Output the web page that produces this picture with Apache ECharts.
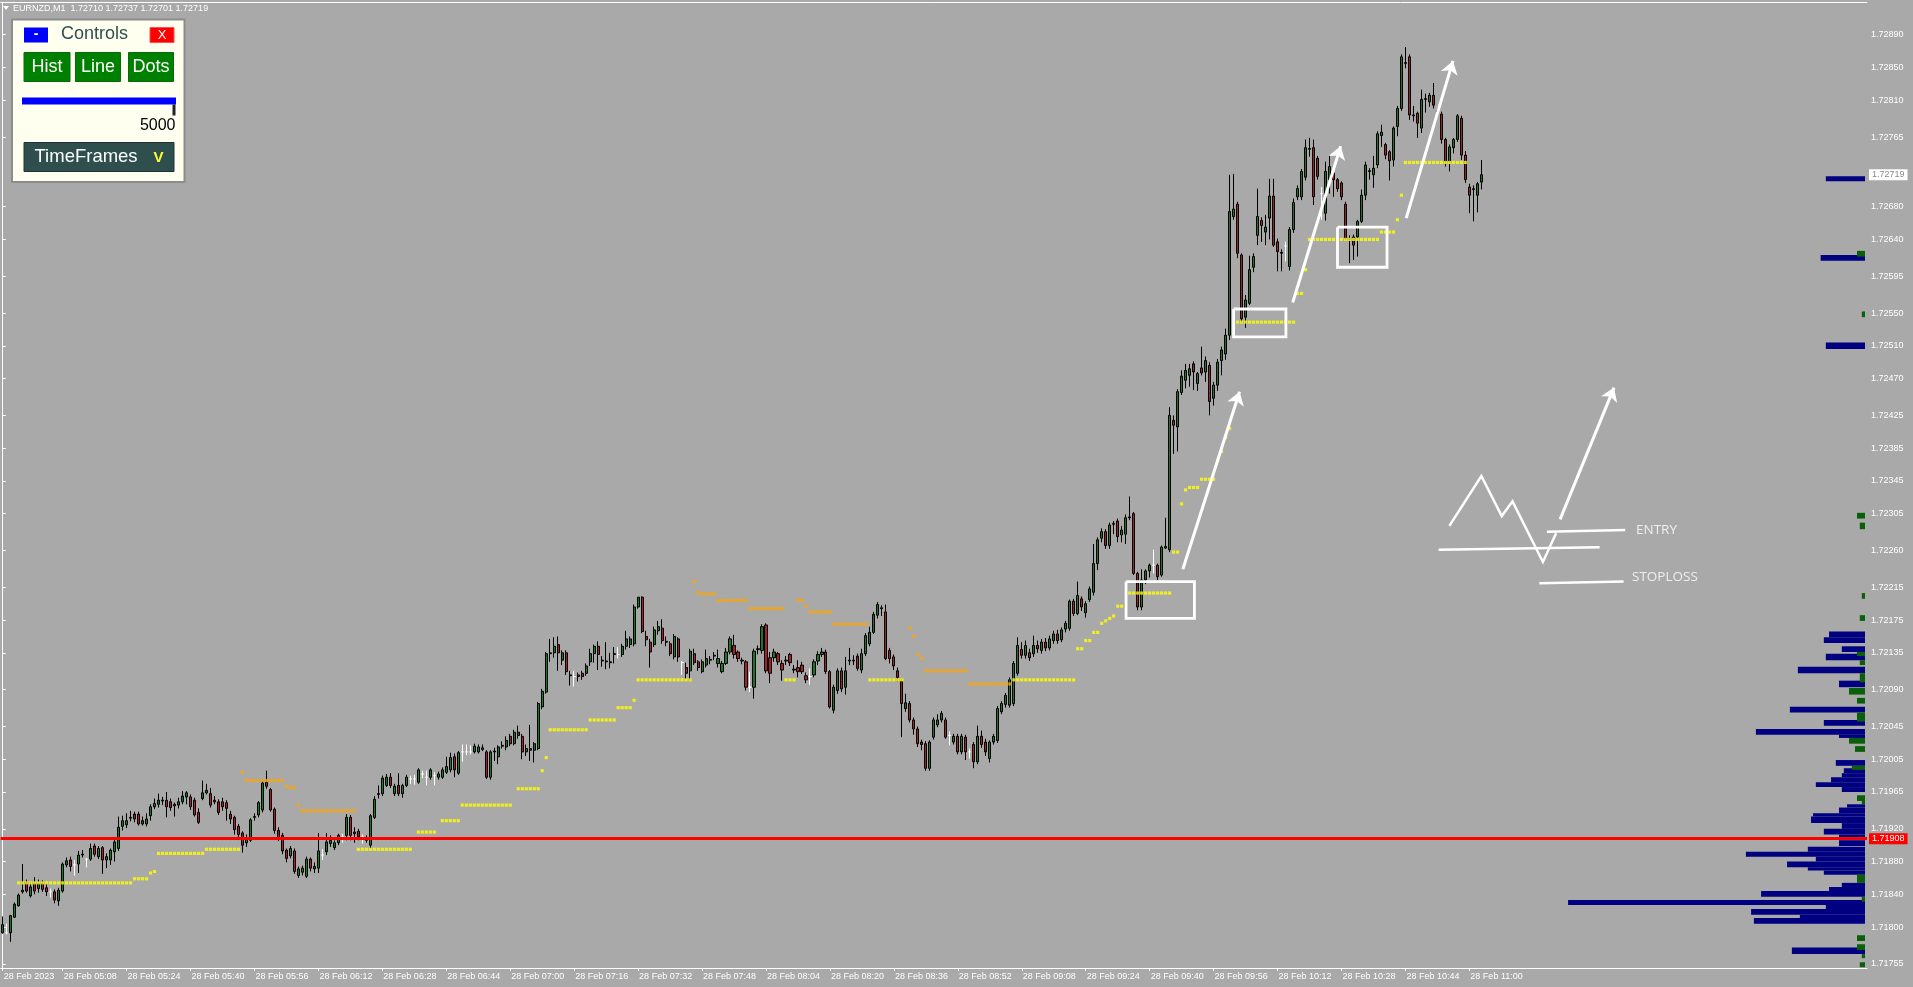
<!DOCTYPE html>
<html><head><meta charset="utf-8">
<script src="https://cdn.jsdelivr.net/npm/echarts@6/dist/echarts.min.js"></script>
<style>html,body{margin:0;padding:0;background:#a9a9a9;overflow:hidden}#chart{width:1913px;height:987px}</style>
</head><body><div id="chart"></div>
<script>
const symbolName = 'EURNZD,M1';
const firstBarMinute = 4 * 60 + 53;
// [open, high, low, close] per M1 bar
const ohlc = [
[1.71793,1.71813,1.71792,1.71803],[1.71793,1.71804,1.71791,1.71793],[1.71793,1.71815,1.71782,1.71814],[1.71812,1.71830,1.71811,1.71828],[1.71826,1.71841,1.71825,1.71839],
[1.71845,1.71877,1.71841,1.71843],[1.71854,1.71858,1.71842,1.71844],[1.71838,1.71855,1.71836,1.71849],[1.71853,1.71861,1.71840,1.71844],[1.71847,1.71858,1.71842,1.71853],
[1.71853,1.71857,1.71843,1.71846],[1.71848,1.71853,1.71838,1.71843],[1.71843,1.71847,1.71836,1.71843],[1.71843,1.71846,1.71829,1.71833],[1.71832,1.71848,1.71826,1.71845],
[1.71844,1.71879,1.71842,1.71877],[1.71876,1.71885,1.71873,1.71881],[1.71882,1.71886,1.71868,1.71874],[1.71876,1.71882,1.71863,1.71876],[1.71877,1.71893,1.71866,1.71888],
[1.71888,1.71894,1.71885,1.71889],[1.71883,1.71884,1.71873,1.71883],[1.71883,1.71902,1.71881,1.71896],[1.71899,1.71902,1.71886,1.71889],[1.71886,1.71899,1.71883,1.71896],
[1.71897,1.71899,1.71865,1.71882],[1.71882,1.71890,1.71872,1.71886],[1.71882,1.71896,1.71876,1.71894],[1.71892,1.71907,1.71880,1.71904],[1.71896,1.71935,1.71893,1.71922],
[1.71923,1.71936,1.71918,1.71930],[1.71925,1.71939,1.71921,1.71930],[1.71934,1.71942,1.71929,1.71933],[1.71938,1.71941,1.71928,1.71932],[1.71938,1.71941,1.71924,1.71926],
[1.71926,1.71935,1.71924,1.71930],[1.71926,1.71939,1.71923,1.71932],[1.71936,1.71950,1.71930,1.71947],[1.71947,1.71957,1.71944,1.71951],[1.71950,1.71963,1.71946,1.71955],
[1.71955,1.71959,1.71949,1.71954],[1.71955,1.71965,1.71934,1.71947],[1.71953,1.71957,1.71942,1.71946],[1.71948,1.71952,1.71935,1.71950],[1.71949,1.71958,1.71945,1.71953],
[1.71953,1.71966,1.71950,1.71960],[1.71959,1.71966,1.71950,1.71964],[1.71959,1.71962,1.71943,1.71947],[1.71955,1.71958,1.71935,1.71937],[1.71940,1.71945,1.71926,1.71928],
[1.71957,1.71979,1.71955,1.71964],[1.71964,1.71975,1.71962,1.71967],[1.71963,1.71970,1.71946,1.71949],[1.71955,1.71960,1.71950,1.71953],[1.71953,1.71956,1.71937,1.71940],
[1.71953,1.71958,1.71942,1.71947],[1.71952,1.71955,1.71930,1.71945],[1.71938,1.71942,1.71926,1.71932],[1.71934,1.71936,1.71913,1.71919],[1.71923,1.71926,1.71910,1.71913],
[1.71915,1.71917,1.71891,1.71900],[1.71903,1.71913,1.71898,1.71907],[1.71906,1.71933,1.71904,1.71931],[1.71934,1.71939,1.71930,1.71935],[1.71937,1.71954,1.71934,1.71952],
[1.71943,1.71978,1.71940,1.71976],[1.71977,1.71991,1.71969,1.71972],[1.71968,1.71970,1.71941,1.71943],[1.71944,1.71946,1.71914,1.71918],[1.71918,1.71922,1.71905,1.71909],
[1.71912,1.71915,1.71889,1.71893],[1.71894,1.71896,1.71879,1.71884],[1.71887,1.71899,1.71884,1.71896],[1.71893,1.71896,1.71865,1.71868],[1.71863,1.71874,1.71860,1.71871],
[1.71867,1.71875,1.71863,1.71872],[1.71862,1.71886,1.71860,1.71883],[1.71883,1.71885,1.71868,1.71872],[1.71871,1.71879,1.71866,1.71874],[1.71872,1.71915,1.71866,1.71893],
[1.71888,1.71895,1.71882,1.71888],[1.71892,1.71915,1.71888,1.71904],[1.71902,1.71912,1.71898,1.71906],[1.71897,1.71906,1.71894,1.71903],[1.71903,1.71914,1.71900,1.71912],
[1.71910,1.71914,1.71903,1.71910],[1.71912,1.71938,1.71906,1.71934],[1.71934,1.71937,1.71906,1.71912],[1.71916,1.71922,1.71903,1.71914],[1.71917,1.71920,1.71906,1.71910],
[1.71910,1.71913,1.71902,1.71910],[1.71906,1.71912,1.71903,1.71907],[1.71900,1.71938,1.71896,1.71936],[1.71934,1.71960,1.71932,1.71956],[1.71963,1.71973,1.71957,1.71962],
[1.71963,1.71985,1.71960,1.71982],[1.71973,1.71987,1.71971,1.71983],[1.71983,1.71988,1.71970,1.71973],[1.71963,1.71975,1.71960,1.71972],[1.71973,1.71988,1.71960,1.71963],
[1.71963,1.71975,1.71958,1.71973],[1.71973,1.71986,1.71971,1.71983],[1.71981,1.71985,1.71975,1.71981],[1.71981,1.71986,1.71974,1.71981],[1.71977,1.71994,1.71975,1.71992],
[1.71987,1.71991,1.71982,1.71987],[1.71983,1.71991,1.71973,1.71983],[1.71983,1.71994,1.71980,1.71992],[1.71985,1.71989,1.71973,1.71985],[1.71983,1.71990,1.71980,1.71987],
[1.71983,1.71995,1.71981,1.71992],[1.71989,1.72008,1.71987,1.71996],[1.71992,1.72013,1.71989,1.72007],[1.72008,1.72012,1.71983,1.71992],[1.71988,1.72015,1.71986,1.72013],
[1.72014,1.72023,1.72002,1.72014],[1.72014,1.72023,1.72010,1.72014],[1.72014,1.72022,1.72011,1.72014],[1.72014,1.72024,1.72012,1.72021],[1.72014,1.72023,1.72012,1.72020],
[1.72019,1.72023,1.72015,1.72017],[1.72014,1.72016,1.71981,1.71983],[1.71983,1.72016,1.71980,1.72014],[1.72014,1.72019,1.72003,1.72015],[1.72008,1.72022,1.71999,1.72020],
[1.72022,1.72027,1.72018,1.72021],[1.72020,1.72033,1.72016,1.72028],[1.72033,1.72036,1.72021,1.72024],[1.72024,1.72041,1.72022,1.72038],[1.72038,1.72046,1.72030,1.72034],
[1.72033,1.72036,1.72005,1.72014],[1.72014,1.72023,1.72009,1.72018],[1.72018,1.72047,1.72003,1.72016],[1.72016,1.72026,1.72001,1.72024],[1.72018,1.72075,1.72016,1.72073],
[1.72069,1.72091,1.72066,1.72088],[1.72087,1.72136,1.72085,1.72134],[1.72134,1.72152,1.72124,1.72135],[1.72135,1.72154,1.72129,1.72143],[1.72145,1.72155,1.72113,1.72135],
[1.72126,1.72138,1.72120,1.72135],[1.72135,1.72138,1.72108,1.72112],[1.72108,1.72113,1.72095,1.72107],[1.72106,1.72113,1.72094,1.72106],[1.72108,1.72111,1.72100,1.72106],
[1.72110,1.72113,1.72102,1.72106],[1.72110,1.72122,1.72107,1.72119],[1.72124,1.72140,1.72119,1.72134],[1.72134,1.72145,1.72123,1.72143],[1.72143,1.72149,1.72114,1.72133],
[1.72126,1.72131,1.72118,1.72125],[1.72125,1.72148,1.72115,1.72124],[1.72124,1.72135,1.72116,1.72123],[1.72133,1.72142,1.72122,1.72134],[1.72133,1.72142,1.72128,1.72133],
[1.72133,1.72146,1.72130,1.72143],[1.72143,1.72162,1.72139,1.72152],[1.72145,1.72155,1.72141,1.72152],[1.72146,1.72194,1.72143,1.72191],[1.72191,1.72203,1.72189,1.72203],
[1.72203,1.72204,1.72159,1.72161],[1.72155,1.72162,1.72143,1.72151],[1.72148,1.72152,1.72117,1.72136],[1.72145,1.72167,1.72142,1.72163],[1.72162,1.72174,1.72157,1.72167],
[1.72165,1.72176,1.72146,1.72150],[1.72149,1.72155,1.72143,1.72148],[1.72146,1.72149,1.72131,1.72134],[1.72130,1.72158,1.72127,1.72155],[1.72152,1.72154,1.72124,1.72130],
[1.72123,1.72125,1.72108,1.72123],[1.72117,1.72123,1.72103,1.72110],[1.72113,1.72140,1.72101,1.72137],[1.72134,1.72140,1.72120,1.72123],[1.72124,1.72126,1.72113,1.72117],
[1.72112,1.72127,1.72110,1.72124],[1.72120,1.72139,1.72117,1.72128],[1.72127,1.72131,1.72121,1.72126],[1.72131,1.72136,1.72126,1.72132],[1.72122,1.72139,1.72117,1.72128],
[1.72112,1.72125,1.72110,1.72122],[1.72122,1.72141,1.72120,1.72136],[1.72136,1.72155,1.72133,1.72152],[1.72144,1.72157,1.72128,1.72133],[1.72136,1.72138,1.72124,1.72128],
[1.72126,1.72129,1.72121,1.72125],[1.72124,1.72126,1.72089,1.72093],[1.72093,1.72112,1.72087,1.72093],[1.72093,1.72140,1.72079,1.72137],[1.72139,1.72144,1.72133,1.72140],
[1.72138,1.72170,1.72134,1.72167],[1.72169,1.72171,1.72110,1.72113],[1.72129,1.72136,1.72098,1.72110],[1.72129,1.72140,1.72124,1.72136],[1.72134,1.72136,1.72120,1.72124],
[1.72122,1.72126,1.72101,1.72114],[1.72126,1.72131,1.72120,1.72125],[1.72133,1.72135,1.72119,1.72123],[1.72115,1.72120,1.72110,1.72114],[1.72117,1.72126,1.72105,1.72112],
[1.72120,1.72124,1.72109,1.72112],[1.72107,1.72111,1.72098,1.72102],[1.72106,1.72116,1.72096,1.72106],[1.72108,1.72127,1.72105,1.72124],[1.72125,1.72137,1.72120,1.72133],
[1.72133,1.72141,1.72130,1.72136],[1.72136,1.72139,1.72109,1.72112],[1.72112,1.72114,1.72067,1.72069],[1.72065,1.72096,1.72061,1.72093],[1.72089,1.72116,1.72085,1.72113],
[1.72113,1.72117,1.72087,1.72091],[1.72093,1.72130,1.72084,1.72113],[1.72126,1.72141,1.72120,1.72125],[1.72125,1.72132,1.72120,1.72126],[1.72131,1.72134,1.72113,1.72116],
[1.72114,1.72140,1.72110,1.72134],[1.72134,1.72159,1.72131,1.72156],[1.72146,1.72167,1.72143,1.72160],[1.72160,1.72185,1.72158,1.72182],[1.72181,1.72197,1.72177,1.72194],
[1.72189,1.72193,1.72180,1.72190],[1.72185,1.72194,1.72126,1.72128],[1.72138,1.72141,1.72122,1.72128],[1.72130,1.72133,1.72114,1.72119],[1.72113,1.72117,1.72100,1.72105],
[1.72100,1.72103,1.72032,1.72073],[1.72067,1.72085,1.72063,1.72074],[1.72073,1.72076,1.72050,1.72053],[1.72053,1.72056,1.72035,1.72042],[1.72042,1.72045,1.72020,1.72024],
[1.72026,1.72029,1.72016,1.72023],[1.72024,1.72027,1.71991,1.71994],[1.71994,1.72028,1.71991,1.72026],[1.72032,1.72056,1.72029,1.72053],[1.72047,1.72060,1.72044,1.72053],
[1.72053,1.72064,1.72050,1.72061],[1.72053,1.72056,1.72030,1.72032],[1.72034,1.72039,1.72022,1.72034],[1.72026,1.72036,1.72023,1.72033],[1.72033,1.72036,1.72011,1.72014],
[1.72014,1.72036,1.72011,1.72033],[1.72032,1.72035,1.72004,1.72014],[1.72014,1.72018,1.72006,1.72014],[1.72023,1.72026,1.71994,1.72002],[1.72002,1.72046,1.71999,1.72033],
[1.72033,1.72040,1.72019,1.72023],[1.72026,1.72030,1.72009,1.72014],[1.72006,1.72028,1.72001,1.72026],[1.72026,1.72036,1.72023,1.72033],[1.72028,1.72070,1.72025,1.72067],
[1.72063,1.72076,1.72060,1.72073],[1.72072,1.72086,1.72068,1.72083],[1.72071,1.72105,1.72068,1.72102],[1.72073,1.72125,1.72070,1.72122],[1.72110,1.72154,1.72107,1.72144],
[1.72139,1.72148,1.72128,1.72132],[1.72132,1.72150,1.72128,1.72144],[1.72135,1.72140,1.72125,1.72129],[1.72134,1.72156,1.72130,1.72144],[1.72144,1.72150,1.72135,1.72140],
[1.72138,1.72152,1.72134,1.72148],[1.72148,1.72153,1.72137,1.72141],[1.72141,1.72156,1.72138,1.72152],[1.72150,1.72162,1.72146,1.72158],[1.72158,1.72163,1.72146,1.72150],
[1.72151,1.72166,1.72148,1.72163],[1.72164,1.72174,1.72160,1.72171],[1.72165,1.72200,1.72162,1.72198],[1.72198,1.72201,1.72180,1.72183],[1.72183,1.72222,1.72181,1.72205],
[1.72201,1.72204,1.72186,1.72191],[1.72184,1.72198,1.72178,1.72195],[1.72200,1.72216,1.72197,1.72213],[1.72209,1.72268,1.72205,1.72244],[1.72244,1.72276,1.72236,1.72273],
[1.72275,1.72287,1.72270,1.72283],[1.72283,1.72286,1.72262,1.72266],[1.72266,1.72294,1.72262,1.72291],[1.72293,1.72296,1.72280,1.72292],[1.72296,1.72299,1.72270,1.72277],
[1.72279,1.72290,1.72270,1.72285],[1.72280,1.72304,1.72268,1.72300],[1.72301,1.72326,1.72297,1.72300],[1.72305,1.72307,1.72230,1.72232],[1.72232,1.72234,1.72187,1.72191],
[1.72191,1.72237,1.72187,1.72224],[1.72224,1.72237,1.72219,1.72235],[1.72235,1.72244,1.72227,1.72242],[1.72242,1.72261,1.72232,1.72242],[1.72242,1.72244,1.72224,1.72228],
[1.72230,1.72266,1.72228,1.72264],[1.72263,1.72300,1.72262,1.72265],[1.72261,1.72435,1.72258,1.72425],[1.72419,1.72425,1.72378,1.72413],[1.72411,1.72457,1.72381,1.72454],
[1.72453,1.72480,1.72450,1.72473],[1.72468,1.72488,1.72458,1.72480],[1.72474,1.72488,1.72460,1.72482],[1.72488,1.72491,1.72456,1.72478],[1.72464,1.72478,1.72455,1.72476],
[1.72483,1.72509,1.72474,1.72477],[1.72478,1.72497,1.72466,1.72492],[1.72486,1.72490,1.72425,1.72442],[1.72446,1.72466,1.72437,1.72462],[1.72462,1.72494,1.72455,1.72490],
[1.72492,1.72509,1.72474,1.72505],[1.72500,1.72531,1.72493,1.72523],[1.72523,1.72719,1.72517,1.72674],[1.72668,1.72720,1.72664,1.72677],[1.72683,1.72686,1.72617,1.72623],
[1.72621,1.72623,1.72538,1.72543],[1.72545,1.72572,1.72532,1.72566],[1.72562,1.72620,1.72560,1.72603],[1.72606,1.72623,1.72600,1.72619],[1.72645,1.72702,1.72633,1.72668],
[1.72663,1.72667,1.72637,1.72657],[1.72649,1.72670,1.72633,1.72655],[1.72666,1.72714,1.72640,1.72693],[1.72693,1.72714,1.72631,1.72633],[1.72637,1.72641,1.72601,1.72625],
[1.72623,1.72628,1.72601,1.72624],[1.72632,1.72637,1.72613,1.72632],[1.72607,1.72655,1.72602,1.72652],[1.72652,1.72690,1.72648,1.72685],[1.72692,1.72706,1.72688,1.72702],
[1.72692,1.72726,1.72688,1.72723],[1.72716,1.72762,1.72712,1.72752],[1.72750,1.72764,1.72741,1.72751],[1.72752,1.72762,1.72682,1.72692],[1.72739,1.72742,1.72713,1.72717],
[1.72696,1.72704,1.72664,1.72696],[1.72672,1.72735,1.72663,1.72723],[1.72713,1.72743,1.72696,1.72729],[1.72721,1.72727,1.72692,1.72713],[1.72713,1.72715,1.72698,1.72702],
[1.72709,1.72711,1.72688,1.72692],[1.72683,1.72686,1.72639,1.72641],[1.72641,1.72645,1.72611,1.72640],[1.72643,1.72646,1.72615,1.72633],[1.72643,1.72664,1.72619,1.72662],
[1.72662,1.72701,1.72660,1.72694],[1.72694,1.72735,1.72688,1.72731],[1.72724,1.72727,1.72713,1.72723],[1.72719,1.72742,1.72703,1.72727],[1.72731,1.72772,1.72727,1.72769],
[1.72767,1.72780,1.72753,1.72771],[1.72756,1.72758,1.72738,1.72743],[1.72747,1.72749,1.72712,1.72736],[1.72737,1.72778,1.72729,1.72776],[1.72778,1.72803,1.72766,1.72800],
[1.72800,1.72866,1.72797,1.72863],[1.72856,1.72875,1.72849,1.72855],[1.72863,1.72866,1.72786,1.72792],[1.72792,1.72803,1.72784,1.72791],[1.72794,1.72796,1.72764,1.72782],
[1.72776,1.72823,1.72770,1.72811],[1.72812,1.72818,1.72795,1.72811],[1.72808,1.72819,1.72802,1.72816],[1.72816,1.72831,1.72800,1.72804],[1.72797,1.72800,1.72790,1.72796],
[1.72793,1.72796,1.72757,1.72762],[1.72762,1.72764,1.72729,1.72735],[1.72735,1.72756,1.72723,1.72753],[1.72752,1.72764,1.72745,1.72762],[1.72762,1.72793,1.72759,1.72791],
[1.72788,1.72791,1.72737,1.72743],[1.72743,1.72748,1.72709,1.72713],[1.72704,1.72708,1.72672,1.72694],[1.72702,1.72706,1.72662,1.72701],[1.72694,1.72710,1.72673,1.72708],
[1.72710,1.72737,1.72701,1.72719]
];
// indicator dots: [firstBar, lastBar, level]
const yellowRuns = [
[4,32,1.71854],[33,36,1.71859],[37,37,1.71866],[38,38,1.71868],[39,50,1.71890],[51,59,1.71895],
[89,102,1.71895],[104,108,1.71916],[110,114,1.71930],[115,127,1.71949],[129,134,1.71969],[135,135,1.71991],
[136,136,1.72007],[137,146,1.72041],[147,153,1.72053],[154,157,1.72068],[158,158,1.72077],[159,172,1.72102],
[196,198,1.72102],[217,225,1.72102],[253,268,1.72102],[269,270,1.72140],[271,272,1.72150],[273,274,1.72160],
[275,275,1.72171],[276,276,1.72174],[277,277,1.72177],[278,278,1.72180],[279,280,1.72192],[282,292,1.72208],
[293,294,1.72258],[295,295,1.72317],[296,296,1.72334],[297,299,1.72337],[300,303,1.72347],[304,304,1.72370],
[305,305,1.72381],[306,306,1.72398],[307,307,1.72409],[309,323,1.72539],[324,325,1.72574],[326,326,1.72603],
[327,344,1.72640],[345,348,1.72649],[349,349,1.72664],[350,350,1.72694],[351,366,1.72734]
];
const orangeRuns = [
[60,60,1.71989],[61,70,1.71979],[71,71,1.71972],[72,72,1.71971],[73,73,1.71970],[74,74,1.71949],[75,88,1.71942],
[173,173,1.72222],[174,174,1.72209],[175,178,1.72207],[179,186,1.72199],[187,195,1.72189],[199,200,1.72199],
[201,201,1.72192],[202,207,1.72185],[208,216,1.72170],[227,227,1.72165],[228,228,1.72155],[229,229,1.72133],
[230,230,1.72128],[231,241,1.72113],[242,252,1.72097]
];
// market profile on the right: [low, high, volume]
const profileRows = [
[1.72711,1.72717,9.8],[1.72614,1.72621,11.1],[1.72506,1.72514,9.8],[1.72154,1.72161,9.0],[1.72147,1.72154,10.3],
[1.72136,1.72143,5.8],[1.72126,1.72134,9.8],[1.72110,1.72118,16.8],[1.72093,1.72101,6.5],[1.72062,1.72069,18.8],
[1.72046,1.72053,10.3],[1.72035,1.72042,27.3],[1.72031,1.72035,6.5],[1.71997,1.72004,7.3],[1.71988,1.71994,5.3],
[1.71983,1.71988,5.8],[1.71977,1.71983,8.5],[1.71971,1.71977,12.3],[1.71965,1.71971,5.8],[1.71946,1.71950,4.5],
[1.71939,1.71946,6.5],[1.71935,1.71939,13.0],[1.71927,1.71935,13.5],[1.71920,1.71927,5.8],[1.71913,1.71920,10.3],
[1.71906,1.71913,6.5],[1.71899,1.71906,6.5],[1.71892,1.71898,14.3],[1.71886,1.71892,29.8],[1.71880,1.71886,12.3],
[1.71873,1.71880,19.5],[1.71869,1.71873,14.3],[1.71864,1.71869,10.3],[1.71849,1.71854,5.8],[1.71844,1.71849,9.0],
[1.71837,1.71844,26.0],[1.71827,1.71833,74.3],[1.71822,1.71827,9.8],[1.71815,1.71822,28.5],[1.71811,1.71815,16.3],
[1.71804,1.71811,27.8],[1.71767,1.71775,18.3]
];
const deltaRows = [
[1.72619,1.72626,2.0],[1.72545,1.72552,0.8],[1.72299,1.72306,2.0],[1.72286,1.72294,1.3],[1.72201,1.72208,0.8],
[1.72174,1.72181,1.3],[1.72131,1.72136,2.0],[1.72120,1.72126,1.3],[1.72099,1.72110,1.3],[1.72084,1.72092,4.0],
[1.72073,1.72080,2.0],[1.72051,1.72062,2.0],[1.72024,1.72031,4.0],[1.72014,1.72021,2.5],[1.71992,1.71997,3.3],
[1.71954,1.71961,2.0],[1.71950,1.71954,0.8],[1.71854,1.71864,2.0],[1.71831,1.71837,0.8],[1.71783,1.71790,2.0],
[1.71772,1.71779,2.0],[1.71762,1.71767,0.8],[1.71751,1.71757,1.3]
];
const yTickValues = [1.72890,1.72850,1.72810,1.72765,1.72680,1.72640,1.72595,1.72550,1.72510,1.72470,1.72425,1.72385,1.72345,1.72305,1.72260,1.72215,1.72175,1.72135,1.72090,1.72045,1.72005,1.71965,1.71920,1.71880,1.71840,1.71800,1.71755];
const xTickTimes = ['04:53','05:08','05:24','05:40','05:56','06:12','06:28','06:44','07:00','07:16','07:32','07:48','08:04','08:20','08:36','08:52','09:08','09:24','09:40','09:56','10:12','10:28','10:44','11:00'];
const xTickLabels = ['28 Feb 2023','28 Feb 05:08','28 Feb 05:24','28 Feb 05:40','28 Feb 05:56','28 Feb 06:12','28 Feb 06:28','28 Feb 06:44','28 Feb 07:00','28 Feb 07:16','28 Feb 07:32','28 Feb 07:48','28 Feb 08:04','28 Feb 08:20','28 Feb 08:36','28 Feb 08:52','28 Feb 09:08','28 Feb 09:24','28 Feb 09:40','28 Feb 09:56','28 Feb 10:12','28 Feb 10:28','28 Feb 10:44','28 Feb 11:00'];
const redLevel = 1.71908;
// hand-drawn annotations in [bar, price]
const arrowLines = [
[[295.3,1.72237],[309.5,1.72454]],
[[322.8,1.72563],[334.8,1.72754]],
[[351.2,1.72666],[362.9,1.72858]],
[[389.7,1.72298],[403.2,1.72459]]
];
const boxes = [
[281.1,298.2,1.72177,1.72222],
[308.0,321.1,1.72521,1.72555],
[334.0,346.4,1.72606,1.72655]
];
const sketchLines = [
[[362.0,1.72290],[370.0,1.72351],[375.1,1.72302],[377.8,1.72320],[385.4,1.72246],[388.7,1.72281]],
[[359.3,1.72261],[399.6,1.72264]],
[[386.4,1.72283],[406.0,1.72285]],
[[384.5,1.72220],[405.6,1.72222]]
];
const sketchTexts = [['ENTRY',408.7,1.72285],['STOPLOSS',407.7,1.72227]];

const NCAT = 467;
const Y_MIN = 1.7175, Y_MAX = 1.7293;
const PROF_RIGHT = 466.0;
const FONT = '"Liberation Sans", Arial, sans-serif';

const cats = [];
for (let i = 0; i < NCAT; i++) {
  if (i < ohlc.length) {
    const m = firstBarMinute + i;
    cats.push(String(Math.floor(m / 60)).padStart(2, '0') + ':' + String(m % 60).padStart(2, '0'));
  } else cats.push('');
}
const tickSet = new Set(xTickTimes.map(t => cats.indexOf(t)));
const candleData = ohlc.map(r => [r[0], r[3], r[2], r[1]]);
function expandRuns(runs) { const out = []; runs.forEach(r => { for (let i = r[0]; i <= r[1]; i++) out.push([i, r[2]]); }); return out; }
const last = ohlc[ohlc.length - 1];
const headerText = symbolName + '  ' + last.map(v => v.toFixed(5)).join(' ');

const chart = echarts.init(document.getElementById('chart'), null, {renderer: 'canvas'});

function profileSeries(rows, color) {
  return {
    type: 'custom', xAxisIndex: 1, yAxisIndex: 0, z: 4, silent: true,
    data: rows,
    encode: {x: 2, y: [0, 1]},
    renderItem: function (params, api) {
      const lo = api.value(0), hi = api.value(1), len = api.value(2);
      const p1 = api.coord([PROF_RIGHT - len, hi]);
      const p2 = api.coord([PROF_RIGHT, lo]);
      return {type: 'rect', shape: {x: p1[0], y: p1[1], width: p2[0] - p1[0], height: p2[1] - p1[1]}, style: {fill: color}};
    }
  };
}

const boxCoords = boxes.map(b => ({coords: [[b[0], b[3]], [b[1], b[3]], [b[1], b[2]], [b[0], b[2]], [b[0], b[3]]]}));

const option = {
  backgroundColor: '#a9a9a9',
  animation: false,
  grid: {left: 0.7, right: 46, top: 2, bottom: 19, containLabel: false},
  xAxis: [
    {
      type: 'category', data: cats, boundaryGap: true, position: 'bottom',
      axisLine: {show: true, lineStyle: {color: '#ffffff', width: 1}},
      axisTick: {show: true, alignWithLabel: true, length: 3, interval: (i) => tickSet.has(i), lineStyle: {color: '#ffffff'}},
      axisLabel: {
        show: true, interval: (i) => tickSet.has(i), align: 'left', margin: 4,
        color: '#ffffff', fontSize: 9, fontFamily: FONT, padding: [0, 0, 0, 1],
        formatter: (v, i) => { const k = xTickTimes.indexOf(v); return k >= 0 && tickSet.has(i) ? xTickLabels[k] : ''; }
      },
      splitLine: {show: false}
    },
    {
      type: 'value', min: -0.5, max: NCAT - 0.5, position: 'top',
      axisLine: {show: true, onZero: false, lineStyle: {color: '#ffffff', width: 1}},
      axisTick: {show: false}, axisLabel: {show: false}, splitLine: {show: false}
    }
  ],
  yAxis: [
    {
      type: 'value', min: Y_MIN, max: Y_MAX, position: 'right', scale: true,
      axisLine: {show: true, lineStyle: {color: '#ffffff', width: 1}},
      axisTick: {show: true, length: 3, customValues: yTickValues, lineStyle: {color: '#ffffff'}},
      axisLabel: {show: true, customValues: yTickValues, margin: 4, color: '#ffffff', fontSize: 9, fontFamily: FONT, formatter: v => v.toFixed(5)},
      splitLine: {show: false}
    },
    {
      type: 'value', min: Y_MIN, max: Y_MAX, position: 'right',
      axisLine: {show: false}, axisTick: {show: false}, splitLine: {show: false},
      axisLabel: {show: true, customValues: [last[3]], margin: 2, color: '#8a8a8a', fontSize: 9, fontFamily: FONT,
        backgroundColor: '#ffffff', padding: [1, 3, 0, 3], lineHeight: 10, formatter: v => v.toFixed(5)}
    },
    {
      type: 'value', min: Y_MIN, max: Y_MAX, position: 'right',
      axisLine: {show: false}, axisTick: {show: false}, splitLine: {show: false},
      axisLabel: {show: true, customValues: [redLevel], margin: 2, color: '#ffffff', fontSize: 9, fontFamily: FONT,
        backgroundColor: '#ff0000', padding: [1, 3, 0, 3], lineHeight: 10, formatter: v => v.toFixed(5)}
    }
  ],
  series: [
    {
      type: 'candlestick', xAxisIndex: 0, yAxisIndex: 0, data: candleData, barWidth: 2.6, z: 2,
      itemStyle: {color: '#177a22', color0: '#a81e2a', borderColor: '#000000', borderColor0: '#000000', borderColorDoji: '#ffffff', borderWidth: 1}
    },
    {type: 'scatter', xAxisIndex: 0, yAxisIndex: 0, symbol: 'rect', symbolSize: [3.2, 3.2], z: 3, silent: true,
      itemStyle: {color: '#ffff00'}, data: expandRuns(yellowRuns)},
    {type: 'scatter', xAxisIndex: 0, yAxisIndex: 0, symbol: 'rect', symbolSize: [3.2, 3.2], z: 3, silent: true,
      itemStyle: {color: '#ffa500'}, data: expandRuns(orangeRuns)},
    profileSeries(profileRows, '#000080'),
    profileSeries(deltaRows, '#0a5f0a'),
    {type: 'lines', coordinateSystem: 'cartesian2d', xAxisIndex: 1, yAxisIndex: 0, z: 6, silent: true,
      symbol: ['none', 'none'], lineStyle: {color: '#ff0000', width: 3, opacity: 1, curveness: 0},
      data: [{coords: [[-0.5, redLevel], [NCAT - 0.5, redLevel]]}]},
    {type: 'lines', coordinateSystem: 'cartesian2d', xAxisIndex: 1, yAxisIndex: 0, z: 7, silent: true,
      symbol: ['none', 'arrow'], symbolSize: 13,
      lineStyle: {color: '#ffffff', width: 3, opacity: 1, curveness: 0},
      data: arrowLines.map(c => ({coords: c}))},
    {type: 'lines', coordinateSystem: 'cartesian2d', xAxisIndex: 1, yAxisIndex: 0, z: 7, silent: true, polyline: true,
      symbol: ['none', 'none'], lineStyle: {color: '#ffffff', width: 2.8, opacity: 1},
      data: boxCoords},
    {type: 'lines', coordinateSystem: 'cartesian2d', xAxisIndex: 1, yAxisIndex: 0, z: 7, silent: true, polyline: true,
      symbol: ['none', 'none'], lineStyle: {color: '#ffffff', width: 2.5, opacity: 1},
      data: sketchLines.map(c => ({coords: c}))},
    {type: 'scatter', xAxisIndex: 1, yAxisIndex: 0, z: 7, silent: true, symbolSize: 0,
      label: {show: true, position: 'right', distance: 0, color: '#ffffff', fontSize: 13.5, fontFamily: '"Open Sans", sans-serif', formatter: p => p.name},
      data: sketchTexts.map(t => ({name: t[0], value: [t[1], t[2]]}))}
  ],
  graphic: [
    {type: 'polygon', shape: {points: [[3, 6], [9, 6], [6, 10]]}, style: {fill: '#ffffff'}, z: 10},
    {type: 'text', x: 13, y: 9, z: 10, style: {text: headerText, fill: '#ffffff', fontSize: 9, fontFamily: FONT, align: 'left', verticalAlign: 'middle'}},
    {type: 'group', z: 20, children: [
      {type: 'rect', shape: {x: 12, y: 19.5, width: 172.5, height: 162.5}, style: {fill: '#fffff0', stroke: '#8c8c8c', lineWidth: 2}},
      {type: 'rect', shape: {x: 24, y: 27.5, width: 24, height: 15}, style: {fill: '#0000ff'}},
      {type: 'text', x: 36, y: 34.5, style: {text: '-', fill: '#ffffff', fontSize: 14, fontWeight: 'bold', fontFamily: FONT, align: 'center', verticalAlign: 'middle'}},
      {type: 'text', x: 61, y: 34, style: {text: 'Controls', fill: '#2f4f4f', fontSize: 18, fontFamily: FONT, align: 'left', verticalAlign: 'middle'}},
      {type: 'rect', shape: {x: 150, y: 27.5, width: 24, height: 15}, style: {fill: '#ff0000', stroke: '#ff5050', lineWidth: 1}},
      {type: 'text', x: 162, y: 35, style: {text: 'X', fill: '#ffffff', fontSize: 13, fontFamily: FONT, align: 'center', verticalAlign: 'middle'}},
      {type: 'rect', shape: {x: 24, y: 52.5, width: 46, height: 29}, style: {fill: '#008000', stroke: '#0a6a0a', lineWidth: 1}},
      {type: 'text', x: 47, y: 67, style: {text: 'Hist', fill: '#ffffff', fontSize: 18, fontFamily: FONT, align: 'center', verticalAlign: 'middle'}},
      {type: 'rect', shape: {x: 75.5, y: 52.5, width: 45, height: 29}, style: {fill: '#008000', stroke: '#0a6a0a', lineWidth: 1}},
      {type: 'text', x: 98, y: 67, style: {text: 'Line', fill: '#ffffff', fontSize: 18, fontFamily: FONT, align: 'center', verticalAlign: 'middle'}},
      {type: 'rect', shape: {x: 128.5, y: 52.5, width: 45, height: 29}, style: {fill: '#008000', stroke: '#0a6a0a', lineWidth: 1}},
      {type: 'text', x: 151, y: 67, style: {text: 'Dots', fill: '#ffffff', fontSize: 18, fontFamily: FONT, align: 'center', verticalAlign: 'middle'}},
      {type: 'rect', shape: {x: 22, y: 97.5, width: 154, height: 7}, style: {fill: '#0000ff'}},
      {type: 'rect', shape: {x: 172.5, y: 104.5, width: 3, height: 11}, style: {fill: '#222222'}},
      {type: 'text', x: 175.5, y: 126, style: {text: '5000', fill: '#000000', fontSize: 16, fontFamily: FONT, align: 'right', verticalAlign: 'middle'}},
      {type: 'rect', shape: {x: 24, y: 142.5, width: 150, height: 29}, style: {fill: '#2f4f4f', stroke: '#1c3434', lineWidth: 1}},
      {type: 'text', x: 34.5, y: 157, style: {text: 'TimeFrames', fill: '#ffffff', fontSize: 18.5, fontFamily: FONT, align: 'left', verticalAlign: 'middle'}},
      {type: 'text', x: 158.5, y: 158, style: {text: 'V', fill: '#ffff33', fontSize: 15, fontWeight: 'bold', fontFamily: FONT, align: 'center', verticalAlign: 'middle'}}
    ]}
  ]
};
chart.setOption(option);
</script>
</body></html>
